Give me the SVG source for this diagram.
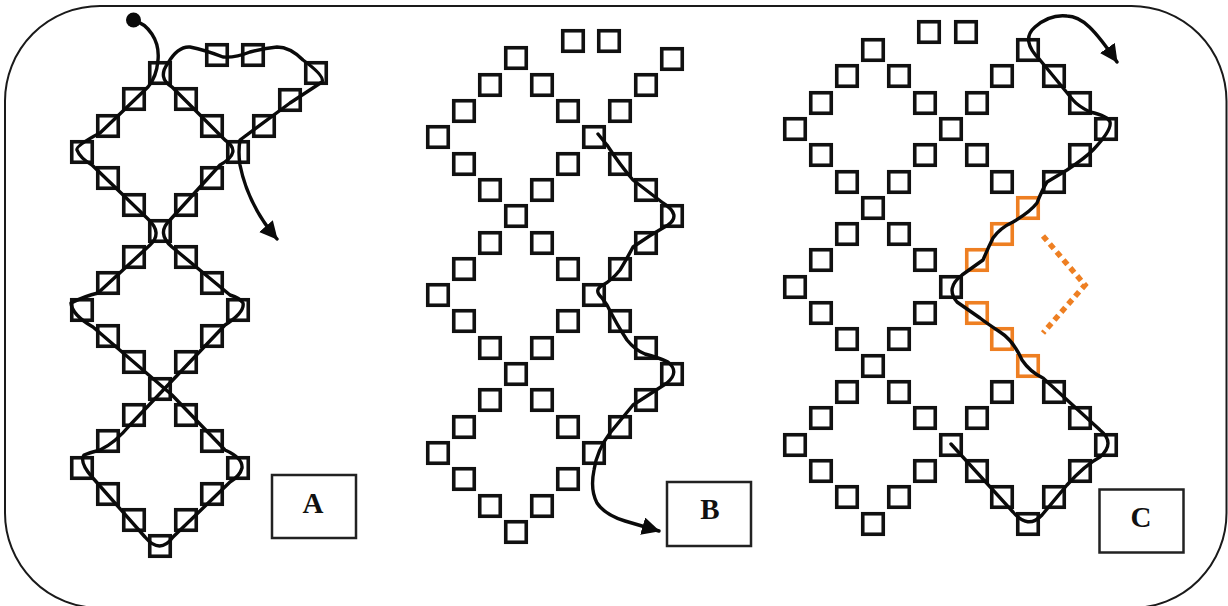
<svg xmlns="http://www.w3.org/2000/svg" width="1228" height="606" viewBox="0 0 1228 606">
<defs>
<style>
.s{fill:none;stroke:#111;stroke-width:3.6}
.o{fill:none;stroke:#ee7f22;stroke-width:3.6}
.t{fill:none;stroke:#0a0a0a;stroke-width:3.4;stroke-linecap:round;stroke-linejoin:round}
.a{marker-end:url(#ah)}
.box{fill:#fff;stroke:#222;stroke-width:2.5}
.lb{font-family:"Liberation Serif","Times New Roman",serif;font-weight:700;font-size:29px;fill:#111;text-anchor:middle}
</style>
<marker id="ah" markerUnits="userSpaceOnUse" markerWidth="20" markerHeight="20" refX="17" refY="9" orient="auto"><path d="M0,0 L18,9 L0,18 Z" fill="#0a0a0a"/></marker>
<rect id="sq" x="-10.250" y="-10.250" width="20.500" height="20.500"/>
</defs>
<rect id="frame" x="5" y="6" width="1221.500" height="602" rx="95" ry="95" fill="#fff" stroke="#1a1a1a" stroke-width="2"/>
<g id="panel-a" class="s">
<g id="a01"><use href="#sq" x="160" y="73"/></g><g id="a02"><use href="#sq" x="134" y="99"/></g><g id="a03"><use href="#sq" x="186" y="99"/></g><g id="a04"><use href="#sq" x="108" y="126"/></g><g id="a05"><use href="#sq" x="212" y="126"/></g><g id="a06"><use href="#sq" x="82" y="152"/></g><g id="a07"><use href="#sq" x="238" y="152"/></g><g id="a08"><use href="#sq" x="108" y="178"/></g><g id="a09"><use href="#sq" x="212" y="178"/></g><g id="a10"><use href="#sq" x="134" y="205"/></g><g id="a11"><use href="#sq" x="186" y="205"/></g><g id="a12"><use href="#sq" x="160" y="231"/></g><g id="a13"><use href="#sq" x="134" y="257"/></g><g id="a14"><use href="#sq" x="186" y="257"/></g><g id="a15"><use href="#sq" x="108" y="283"/></g><g id="a16"><use href="#sq" x="212" y="283"/></g><g id="a17"><use href="#sq" x="82" y="310"/></g><g id="a18"><use href="#sq" x="238" y="310"/></g><g id="a19"><use href="#sq" x="108" y="336"/></g><g id="a20"><use href="#sq" x="212" y="336"/></g><g id="a21"><use href="#sq" x="134" y="362"/></g><g id="a22"><use href="#sq" x="186" y="362"/></g><g id="a23"><use href="#sq" x="160" y="389"/></g><g id="a24"><use href="#sq" x="134" y="415"/></g><g id="a25"><use href="#sq" x="186" y="415"/></g><g id="a26"><use href="#sq" x="108" y="441"/></g><g id="a27"><use href="#sq" x="212" y="441"/></g><g id="a28"><use href="#sq" x="82" y="468"/></g><g id="a29"><use href="#sq" x="238" y="468"/></g><g id="a30"><use href="#sq" x="108" y="494"/></g><g id="a31"><use href="#sq" x="212" y="494"/></g><g id="a32"><use href="#sq" x="134" y="520"/></g><g id="a33"><use href="#sq" x="186" y="520"/></g><g id="a34"><use href="#sq" x="160" y="546"/></g>
<g id="a35"><use href="#sq" x="264" y="126"/></g><g id="a36"><use href="#sq" x="290" y="100"/></g><g id="a37"><use href="#sq" x="316" y="73"/></g><g id="a38"><use href="#sq" x="217" y="55"/></g><g id="a39"><use href="#sq" x="253" y="55"/></g>
</g>
<g id="panel-b" class="s">
<g id="b01"><use href="#sq" x="516" y="58"/></g><g id="b02"><use href="#sq" x="490" y="85"/></g><g id="b03"><use href="#sq" x="542" y="85"/></g><g id="b04"><use href="#sq" x="464" y="111"/></g><g id="b05"><use href="#sq" x="568" y="111"/></g><g id="b06"><use href="#sq" x="438" y="137"/></g><g id="b07"><use href="#sq" x="594" y="137"/></g><g id="b08"><use href="#sq" x="464" y="164"/></g><g id="b09"><use href="#sq" x="568" y="164"/></g><g id="b10"><use href="#sq" x="490" y="190"/></g><g id="b11"><use href="#sq" x="542" y="190"/></g><g id="b12"><use href="#sq" x="516" y="216"/></g><g id="b13"><use href="#sq" x="490" y="243"/></g><g id="b14"><use href="#sq" x="542" y="243"/></g><g id="b15"><use href="#sq" x="464" y="269"/></g><g id="b16"><use href="#sq" x="568" y="269"/></g><g id="b17"><use href="#sq" x="438" y="295"/></g><g id="b18"><use href="#sq" x="594" y="295"/></g><g id="b19"><use href="#sq" x="464" y="321"/></g><g id="b20"><use href="#sq" x="568" y="321"/></g><g id="b21"><use href="#sq" x="490" y="348"/></g><g id="b22"><use href="#sq" x="542" y="348"/></g><g id="b23"><use href="#sq" x="516" y="374"/></g><g id="b24"><use href="#sq" x="490" y="400"/></g><g id="b25"><use href="#sq" x="542" y="400"/></g><g id="b26"><use href="#sq" x="464" y="427"/></g><g id="b27"><use href="#sq" x="568" y="427"/></g><g id="b28"><use href="#sq" x="438" y="453"/></g><g id="b29"><use href="#sq" x="594" y="453"/></g><g id="b30"><use href="#sq" x="464" y="479"/></g><g id="b31"><use href="#sq" x="568" y="479"/></g><g id="b32"><use href="#sq" x="490" y="506"/></g><g id="b33"><use href="#sq" x="542" y="506"/></g><g id="b34"><use href="#sq" x="516" y="532"/></g>
<g id="b35"><use href="#sq" x="620" y="111"/></g><g id="b36"><use href="#sq" x="646" y="85"/></g><g id="b37"><use href="#sq" x="672" y="59"/></g><g id="b38"><use href="#sq" x="620" y="164"/></g><g id="b39"><use href="#sq" x="646" y="190"/></g><g id="b40"><use href="#sq" x="672" y="216"/></g><g id="b41"><use href="#sq" x="646" y="243"/></g><g id="b42"><use href="#sq" x="620" y="269"/></g><g id="b43"><use href="#sq" x="620" y="321"/></g><g id="b44"><use href="#sq" x="646" y="348"/></g><g id="b45"><use href="#sq" x="672" y="374"/></g><g id="b46"><use href="#sq" x="646" y="400"/></g><g id="b47"><use href="#sq" x="620" y="427"/></g><g id="b48"><use href="#sq" x="573" y="41"/></g><g id="b49"><use href="#sq" x="609" y="41"/></g>
</g>
<g id="panel-c" class="s">
<g id="c01"><use href="#sq" x="873" y="50"/></g><g id="c02"><use href="#sq" x="847" y="76"/></g><g id="c03"><use href="#sq" x="899" y="76"/></g><g id="c04"><use href="#sq" x="821" y="103"/></g><g id="c05"><use href="#sq" x="925" y="103"/></g><g id="c06"><use href="#sq" x="795" y="129"/></g><g id="c07"><use href="#sq" x="951" y="129"/></g><g id="c08"><use href="#sq" x="821" y="155"/></g><g id="c09"><use href="#sq" x="925" y="155"/></g><g id="c10"><use href="#sq" x="847" y="182"/></g><g id="c11"><use href="#sq" x="899" y="182"/></g><g id="c12"><use href="#sq" x="873" y="208"/></g><g id="c13"><use href="#sq" x="847" y="234"/></g><g id="c14"><use href="#sq" x="899" y="234"/></g><g id="c15"><use href="#sq" x="821" y="260"/></g><g id="c16"><use href="#sq" x="925" y="260"/></g><g id="c17"><use href="#sq" x="795" y="287"/></g><g id="c18"><use href="#sq" x="951" y="287"/></g><g id="c19"><use href="#sq" x="821" y="313"/></g><g id="c20"><use href="#sq" x="925" y="313"/></g><g id="c21"><use href="#sq" x="847" y="339"/></g><g id="c22"><use href="#sq" x="899" y="339"/></g><g id="c23"><use href="#sq" x="873" y="366"/></g><g id="c24"><use href="#sq" x="847" y="392"/></g><g id="c25"><use href="#sq" x="899" y="392"/></g><g id="c26"><use href="#sq" x="821" y="418"/></g><g id="c27"><use href="#sq" x="925" y="418"/></g><g id="c28"><use href="#sq" x="795" y="445"/></g><g id="c29"><use href="#sq" x="951" y="445"/></g><g id="c30"><use href="#sq" x="821" y="471"/></g><g id="c31"><use href="#sq" x="925" y="471"/></g><g id="c32"><use href="#sq" x="847" y="497"/></g><g id="c33"><use href="#sq" x="899" y="497"/></g><g id="c34"><use href="#sq" x="873" y="524"/></g>
<g id="c35"><use href="#sq" x="1028" y="50"/></g><g id="c36"><use href="#sq" x="1002" y="76"/></g><g id="c37"><use href="#sq" x="1054" y="76"/></g><g id="c38"><use href="#sq" x="977" y="103"/></g><g id="c39"><use href="#sq" x="1080" y="103"/></g><g id="c40"><use href="#sq" x="1106" y="129"/></g><g id="c41"><use href="#sq" x="977" y="155"/></g><g id="c42"><use href="#sq" x="1080" y="155"/></g><g id="c43"><use href="#sq" x="1002" y="182"/></g><g id="c44"><use href="#sq" x="1054" y="182"/></g>
<g id="c45"><use href="#sq" x="1002" y="392"/></g><g id="c46"><use href="#sq" x="1054" y="392"/></g><g id="c47"><use href="#sq" x="977" y="418"/></g><g id="c48"><use href="#sq" x="1080" y="418"/></g><g id="c49"><use href="#sq" x="1106" y="445"/></g><g id="c50"><use href="#sq" x="977" y="471"/></g><g id="c51"><use href="#sq" x="1080" y="471"/></g><g id="c52"><use href="#sq" x="1002" y="497"/></g><g id="c53"><use href="#sq" x="1054" y="497"/></g><g id="c54"><use href="#sq" x="1028" y="524"/></g><g id="c55"><use href="#sq" x="929" y="32"/></g><g id="c56"><use href="#sq" x="966" y="32"/></g>
</g>
<g id="panel-c-orange" class="o">
<g id="o1"><use href="#sq" x="1028" y="208"/></g><g id="o2"><use href="#sq" x="1002" y="234"/></g><g id="o3"><use href="#sq" x="977" y="260"/></g><g id="o4"><use href="#sq" x="977" y="313"/></g><g id="o5"><use href="#sq" x="1002" y="339"/></g><g id="o6"><use href="#sq" x="1028" y="366"/></g>
</g>
<g id="connectors">
<path id="dotted" d="M1043,236 L1085,285 L1043,333" fill="none" stroke="#ee7f22" stroke-width="5.500" stroke-dasharray="6 4.500"/>
<path id="thread-a" class="t a" d="M133,20 C148,24 160,40 158,60 C157,72 154,80 148,87 L100,133 Q75,146 77,150 Q80,158 92,165 L148,219 Q163,233 150,245 L98,293 Q85,296 71,303 Q72,315 93,327 L172,395 L225,450 Q243,458 242,468 Q240,476 230,482 L173,537 Q160,555 145,537 L92,477 Q79,462 84,455 Q92,452 100,450 Q115,443 130,425 L225,325 Q245,312 243,303 Q240,298 230,295 L172,247 Q156,233 170,220 L220,165 Q243,152 225,140 L172,87 Q157,78 168,63 Q178,46 190,47 Q205,50 223,57 Q235,58 250,52 Q265,48 277,47 Q290,47 303,60 Q325,76 322,82 L290,103 L240,140 Q238,152 240,165 Q248,205 277,239"/>
<path id="thread-b" class="t a" d="M598,134 L607,145 Q620,165 633,180 Q650,193 663,203 Q682,215 668,225 Q650,235 633,247 Q625,262 620,270 Q612,280 603,285 Q593,290 602,298 L607,305 Q617,325 627,340 Q635,350 645,354 Q660,358 668,362 Q680,372 667,383 L633,405 L610,433 Q597,450 594,470 Q590,490 597,503 Q605,515 625,521 L659,531"/>
<path id="thread-c" class="t a" d="M951,444 L1013,512 Q1028,530 1042,515 L1067,485 Q1085,465 1100,457 Q1116,443 1100,430 L1043,378 Q1030,372 1022,360 Q1013,340 1000,332 Q985,322 980,318 L957,302 Q945,288 962,275 L983,260 Q988,248 993,238 Q1000,228 1013,222 Q1030,212 1037,203 Q1042,190 1047,182 L1067,170 Q1085,158 1093,150 Q1112,130 1110,122 Q1108,116 1090,112 Q1078,106 1073,100 L1040,60 Q1020,40 1035,27 Q1050,14 1067,16 C1082,16 1095,30 1117,62"/>
</g>
<circle id="start-dot" cx="133.500" cy="20" r="7.500" fill="#0a0a0a"/>
<g id="label-a"><rect class="box" x="272" y="475" width="84" height="63"/><text class="lb" x="313" y="513">A</text></g>
<g id="label-b"><rect class="box" x="667" y="482" width="84" height="64"/><text class="lb" x="710" y="519">B</text></g>
<g id="label-c"><rect class="box" x="1099.500" y="489.500" width="84" height="63"/><text class="lb" x="1141" y="527">C</text></g>
</svg>
